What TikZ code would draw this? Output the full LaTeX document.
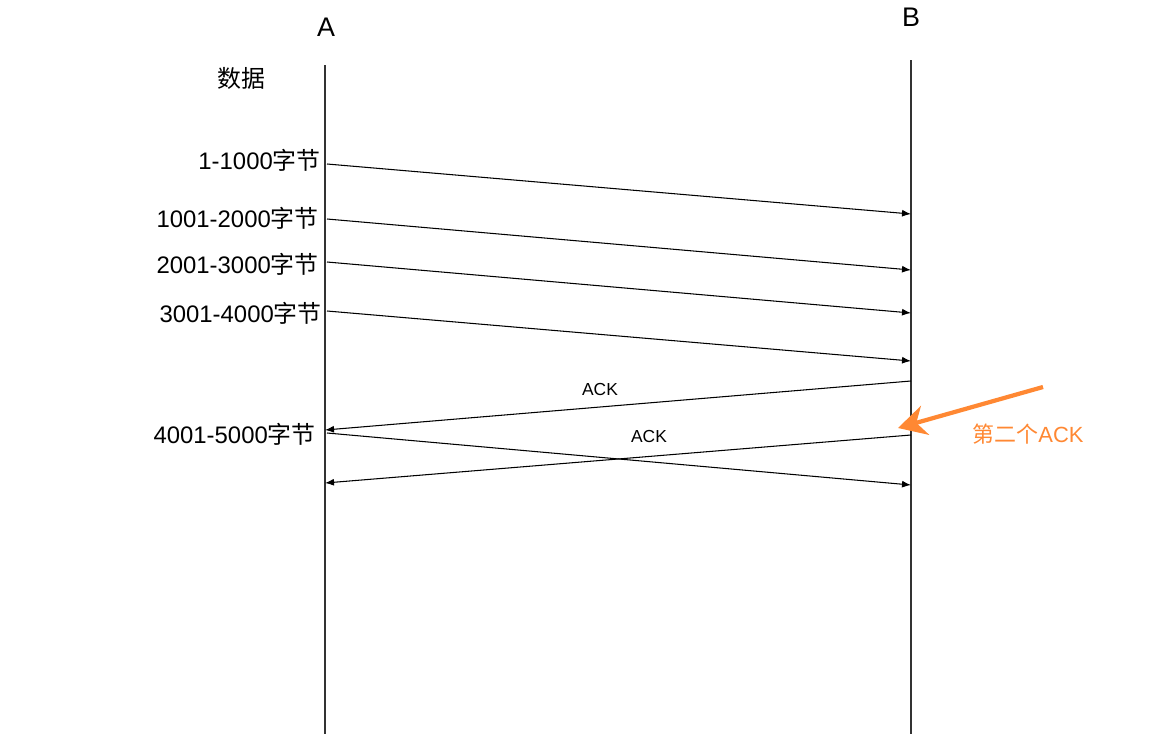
\documentclass[tikz,border=0pt]{standalone}
\usepackage{fontspec}
\setmainfont{Liberation Sans}
\newfontfamily\cjk{Noto Sans CJK SC}
\usetikzlibrary{arrows.meta}
\definecolor{NoteOrange}{RGB}{255,136,51}

\begin{document}
\begin{tikzpicture}[x=0.02cm,y=-0.02cm,
life/.style={draw=black!80,line width=0.6pt},
msg/.style={draw,line width=0.6pt,-{Latex[length=1.8mm,width=1.4mm]}},
host/.style={font=\fontsize{15.3}{18}\selectfont,inner sep=0pt},
seg/.style={font=\fontsize{13.6}{16}\selectfont,anchor=east,inner sep=0pt},
ack/.style={font=\fontsize{9.9}{12}\selectfont,inner sep=0pt},
note/.style={draw=NoteOrange,line width=2.4pt,-{Stealth[length=5.6mm,width=6mm,inset=1.8mm]}}]
\useasboundingbox (0,0) rectangle (1171,734);

\node[host] (hostA) at (326,27) {A};
\node[host] (hostB) at (911,17) {B};
\coordinate (topA) at (325,65);
\coordinate (botA) at (325,734);
\coordinate (topB) at (911,60);
\coordinate (botB) at (911,734);
\draw[life] (topA) -- (botA);
\draw[life] (topB) -- (botB);

\node[seg,anchor=center] (data) at (241,78) {{\cjk 数据}};
\node[seg] (seg1) at (321,160) {1-1000{\cjk 字节}};
\node[seg] (seg2) at (319,218) {1001-2000{\cjk 字节}};
\node[seg] (seg3) at (319,264) {2001-3000{\cjk 字节}};
\node[seg] (seg4) at (322,313) {3001-4000{\cjk 字节}};
\node[seg] (seg5) at (316,434) {4001-5000{\cjk 字节}};

% data segments A -> B
\coordinate (s1) at (327,164); \coordinate (r1) at (911,214);
\coordinate (s2) at (327,219); \coordinate (r2) at (911,270);
\coordinate (s3) at (327,262); \coordinate (r3) at (911,313);
\coordinate (s4) at (327,311); \coordinate (r4) at (911,361);
\coordinate (s5) at (327,433); \coordinate (r5) at (911,485);
\foreach \i in {1,...,5}
  \draw[msg] (s\i) -- (r\i);

% acks B -> A
\coordinate (k1) at (911,381); \coordinate (q1) at (325,430);
\coordinate (k2) at (911,435); \coordinate (q2) at (325,483);
\draw[msg] (k1) -- (q1);
\draw[msg] (k2) -- (q2);
\node[ack] (ack1) at (600,390) {ACK};
\node[ack] (ack2) at (649,437) {ACK};

\coordinate (notetail) at (1043,387);
\coordinate (notehead) at (898,428);
\draw[note] (notetail) -- (notehead);
\node[font=\fontsize{12.5}{15}\selectfont,text=NoteOrange,inner sep=0pt] (second) at (1028,434) {{\cjk 第二个}ACK};

\end{tikzpicture}
\end{document}
